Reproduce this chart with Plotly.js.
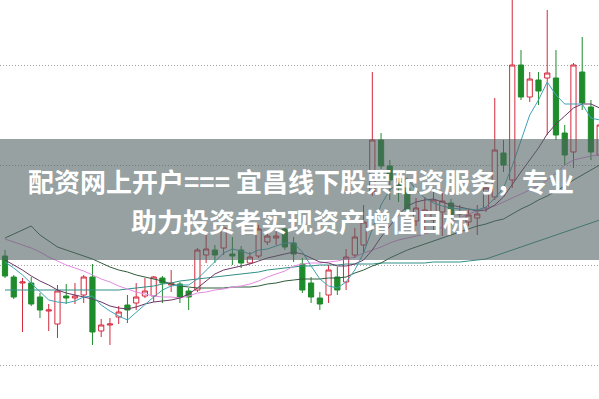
<!DOCTYPE html>
<html>
<head>
<meta charset="utf-8">
<script src="https://cdn.plot.ly/plotly-3.0.1.min.js"></script>
<style>
  html, body { margin: 0; padding: 0; background: #ffffff; }
  #chart { width: 599px; height: 399px; }
</style>
</head>
<body>
<div id="chart"></div>
<script>
// Daily K-line prices
const openPrices = [
  10.09, 9.88, 9.82, 9.82, 9.68, 9.54, 9.41, 9.69, 9.67, 9.70,
  9.88, 9.34, 9.40, 9.48, 9.60, 9.62, 9.69, 9.69, 9.87, 9.80,
  9.81, 9.74, 9.75, 10.10, 10.15, 10.17, 10.11, 10.15, 10.02, 10.09,
  10.23, 10.27, 10.36, 10.22, 10.01, 9.82, 9.67, 9.70, 9.88, 9.83,
  10.10, 10.20, 10.73, 11.25, 10.99, 10.81, 10.77, 10.44, 10.53, 10.45,
  10.53, 10.62, 10.51, 10.43, 10.47, 10.57, 10.68, 11.12, 10.85, 12.00,
  11.68, 11.85, 11.87, 11.87, 11.32, 11.13, 11.93, 11.58, 11.10
];
const highPrices = [
  10.15, 9.90, 9.87, 9.88, 9.72, 9.61, 9.80, 9.81, 9.82, 9.90,
  10.01, 9.46, 9.47, 9.59, 9.70, 9.82, 9.87, 9.89, 9.89, 9.95,
  9.83, 9.77, 10.17, 10.33, 10.20, 10.41, 10.28, 10.19, 10.13, 10.40,
  10.35, 10.35, 10.39, 10.28, 10.07, 9.88, 9.73, 10.00, 9.98, 10.16,
  10.37, 10.60, 11.93, 11.32, 11.05, 10.87, 10.83, 10.67, 10.68, 10.77,
  10.72, 10.66, 10.60, 10.55, 10.60, 10.82, 11.67, 11.25, 12.70, 12.15,
  11.93, 11.93, 12.55, 12.15, 11.40, 12.02, 12.28, 11.65, 11.47
];
const lowPrices = [
  9.87, 9.66, 9.33, 9.59, 9.47, 9.34, 9.27, 9.61, 9.61, 9.62,
  9.20, 9.28, 9.20, 9.41, 9.42, 9.55, 9.67, 9.63, 9.62, 9.73,
  9.62, 9.55, 9.73, 10.02, 10.02, 10.10, 10.00, 9.97, 10.01, 10.07,
  10.20, 10.20, 10.15, 10.03, 9.72, 9.62, 9.55, 9.62, 9.70, 9.75,
  10.07, 10.13, 10.69, 10.96, 10.65, 10.63, 10.52, 10.39, 10.35, 10.32,
  10.29, 10.40, 10.43, 10.39, 10.30, 10.53, 10.65, 10.93, 10.77, 11.65,
  11.63, 11.60, 11.30, 11.25, 11.00, 10.97, 11.55, 11.05, 11.05
];
const closePrices = [
  9.89, 9.68, 9.83, 9.61, 9.55, 9.55, 9.74, 9.67, 9.69, 9.88,
  9.33, 9.40, 9.41, 9.53, 9.55, 9.68, 9.74, 9.88, 9.82, 9.82,
  9.68, 9.68, 10.15, 10.16, 10.10, 10.37, 10.09, 10.02, 10.08, 10.36,
  10.29, 10.29, 10.18, 10.11, 9.75, 9.68, 9.61, 9.95, 9.75, 10.08,
  10.28, 10.43, 11.25, 10.99, 10.85, 10.77, 10.55, 10.57, 10.55, 10.65,
  10.64, 10.50, 10.53, 10.50, 10.51, 10.77, 11.15, 11.00, 12.00, 11.68,
  11.86, 11.74, 11.92, 11.30, 11.10, 12.00, 11.62, 11.13, 11.40
];

// Moving-average curves, one value per trading day
const ma5 = [
  10.03, 9.97, 9.90, 9.82, 9.73, 9.65, 9.63, 9.62, 9.64, 9.68,
  9.69, 9.60, 9.54, 9.49, 9.45, 9.53, 9.61, 9.68, 9.75, 9.79,
  9.80, 9.80, 9.86, 9.95, 10.03, 10.12, 10.16, 10.14, 10.11, 10.15,
  10.16, 10.19, 10.22, 10.22, 10.13, 9.99, 9.86, 9.79, 9.77, 9.83,
  9.95, 10.12, 10.37, 10.60, 10.75, 10.82, 10.87, 10.75, 10.67, 10.62,
  10.59, 10.57, 10.56, 10.56, 10.55, 10.58, 10.67, 10.77, 10.99, 11.25,
  11.50, 11.65, 11.83, 11.70, 11.61, 11.61, 11.61, 11.47, 11.45
];
const ma10 = [
  10.05, 10.00, 9.95, 9.89, 9.84, 9.80, 9.75, 9.72, 9.70, 9.68,
  9.66, 9.63, 9.59, 9.57, 9.56, 9.58, 9.61, 9.63, 9.64, 9.65,
  9.67, 9.71, 9.77, 9.84, 9.91, 9.95, 9.97, 9.99, 10.01, 10.04,
  10.07, 10.09, 10.11, 10.13, 10.11, 10.07, 10.03, 10.02, 9.99, 9.99,
  10.01, 10.05, 10.15, 10.28, 10.39, 10.50, 10.59, 10.63, 10.65, 10.66,
  10.63, 10.60, 10.58, 10.56, 10.54, 10.55, 10.60, 10.68, 10.81, 10.93,
  11.05, 11.17, 11.31, 11.41, 11.49, 11.57, 11.61, 11.61, 11.57
];
const ma20 = [
  10.26, 10.23, 10.20, 10.17, 10.13, 10.08, 10.04, 10.00, 9.97, 9.94,
  9.90, 9.86, 9.83, 9.79, 9.76, 9.73, 9.71, 9.69, 9.68, 9.68,
  9.67, 9.69, 9.72, 9.73, 9.75, 9.76, 9.78, 9.79, 9.81, 9.84,
  9.88, 9.91, 9.94, 9.99, 10.01, 10.02, 10.02, 10.03, 10.04, 10.06,
  10.08, 10.12, 10.15, 10.18, 10.22, 10.25, 10.27, 10.29, 10.31, 10.34,
  10.38, 10.43, 10.47, 10.51, 10.54, 10.57, 10.59, 10.63, 10.67, 10.71,
  10.75, 10.79, 10.85, 10.92, 11.00, 11.05, 11.07, 11.09, 11.10
];
const ma30 = [
  10.27, 10.31, 10.35, 10.39, 10.30, 10.24, 10.18, 10.15, 10.12, 10.09,
  10.06, 10.02, 9.98, 9.95, 9.93, 9.90, 9.88, 9.86, 9.84, 9.81,
  9.79, 9.78, 9.77, 9.77, 9.77, 9.77, 9.78, 9.78, 9.78, 9.79,
  9.81, 9.82, 9.84, 9.85, 9.86, 9.86, 9.86, 9.87, 9.87, 9.88,
  9.92, 9.95, 9.99, 10.02, 10.07, 10.11, 10.15, 10.18, 10.21, 10.24,
  10.27, 10.30, 10.33, 10.36, 10.39, 10.41, 10.44, 10.46, 10.51, 10.56,
  10.60, 10.65, 10.69, 10.74, 10.79, 10.85, 10.90, 10.95, 11.00
];
const ma60 = [
  9.75, 9.75, 9.75, 9.75, 9.75, 9.75, 9.75, 9.75, 9.75, 9.75,
  9.75, 9.75, 9.75, 9.75, 9.76, 9.77, 9.78, 9.79, 9.81, 9.82,
  9.84, 9.85, 9.86, 9.87, 9.88, 9.89, 9.90, 9.91, 9.92, 9.93,
  9.95, 9.96, 9.97, 9.98, 9.99, 9.99, 10.00, 10.00, 10.00, 10.01,
  10.01, 10.01, 10.01, 10.02, 10.02, 10.02, 10.02, 10.02, 10.02, 10.03,
  10.03, 10.03, 10.03, 10.04, 10.05, 10.06, 10.09, 10.12, 10.15, 10.18,
  10.21, 10.24, 10.27, 10.30, 10.33, 10.36, 10.39, 10.42, 10.45
];

// Price levels marked by dotted guide lines
const gridLevels = [9, 10, 11, 12];

const headline1 = '配资网上开户=== 宜昌线下股票配资服务，专业';
const headline2 = '助力投资者实现资产增值目标';

const days = openPrices.map((_, i) => i);

const upColor = '#d3293d';
const downColor = '#1f8c2c';

const traces = [
  {
    type: 'candlestick',
    x: days,
    open: openPrices,
    high: highPrices,
    low: lowPrices,
    close: closePrices,
    whiskerwidth: 0,
    increasing: { line: { color: upColor, width: 1 }, fillcolor: '#ffffff' },
    decreasing: { line: { color: downColor, width: 1 }, fillcolor: downColor },
    hoverinfo: 'skip',
    showlegend: false
  }
];

function maLine(values, color) {
  return {
    type: 'scatter',
    mode: 'lines',
    x: days,
    y: values,
    line: { color: color, width: 1, shape: 'linear' },
    hoverinfo: 'skip',
    showlegend: false
  };
}

traces.push(maLine(ma60, '#2f8f86'));
traces.push(maLine(ma30, '#2f5c3c'));
traces.push(maLine(ma20, '#e58ae2'));
traces.push(maLine(ma10, '#6b3766'));
traces.push(maLine(ma5, '#3ea3b5'));

const layout = {
  width: 599,
  height: 399,
  margin: { l: 0, r: 0, t: 0, b: 0, pad: 0 },
  paper_bgcolor: '#ffffff',
  plot_bgcolor: '#ffffff',
  showlegend: false,
  boxgap: 0.15,
  xaxis: {
    range: [-0.572, 67.92],
    showgrid: false,
    zeroline: false,
    showline: false,
    showticklabels: false,
    ticks: '',
    rangeslider: { visible: false },
    fixedrange: true
  },
  yaxis: {
    range: [8.66, 12.65],
    tickmode: 'array',
    tickvals: gridLevels,
    showgrid: true,
    gridcolor: '#a3a3a3',
    gridwidth: 1,
    griddash: '1px,2px',
    zeroline: false,
    showline: false,
    showticklabels: false,
    ticks: '',
    fixedrange: true
  },
  shapes: [
    {
      type: 'rect',
      xref: 'paper', yref: 'paper',
      x0: 0, x1: 1,
      y0: 1 - 260 / 399, y1: 1 - 139 / 399,
      fillcolor: 'rgba(82,99,98,0.6)',
      line: { width: 0 },
      layer: 'above'
    }
  ],
  annotations: [
    {
      xref: 'paper', yref: 'paper',
      x: 0.503, y: 1 - 181 / 399,
      xanchor: 'center', yanchor: 'middle',
      text: headline1,
      showarrow: false,
      font: { family: 'Noto Sans CJK SC, Noto Sans, sans-serif', size: 26, color: '#ffffff', weight: 700 }
    },
    {
      xref: 'paper', yref: 'paper',
      x: 0.5, y: 1 - 220 / 399,
      xanchor: 'center', yanchor: 'middle',
      text: headline2,
      showarrow: false,
      font: { family: 'Noto Sans CJK SC, Noto Sans, sans-serif', size: 26, color: '#ffffff', weight: 700 }
    }
  ]
};

Plotly.newPlot('chart', traces, layout, { staticPlot: true, displayModeBar: false });
</script>
</body>
</html>
